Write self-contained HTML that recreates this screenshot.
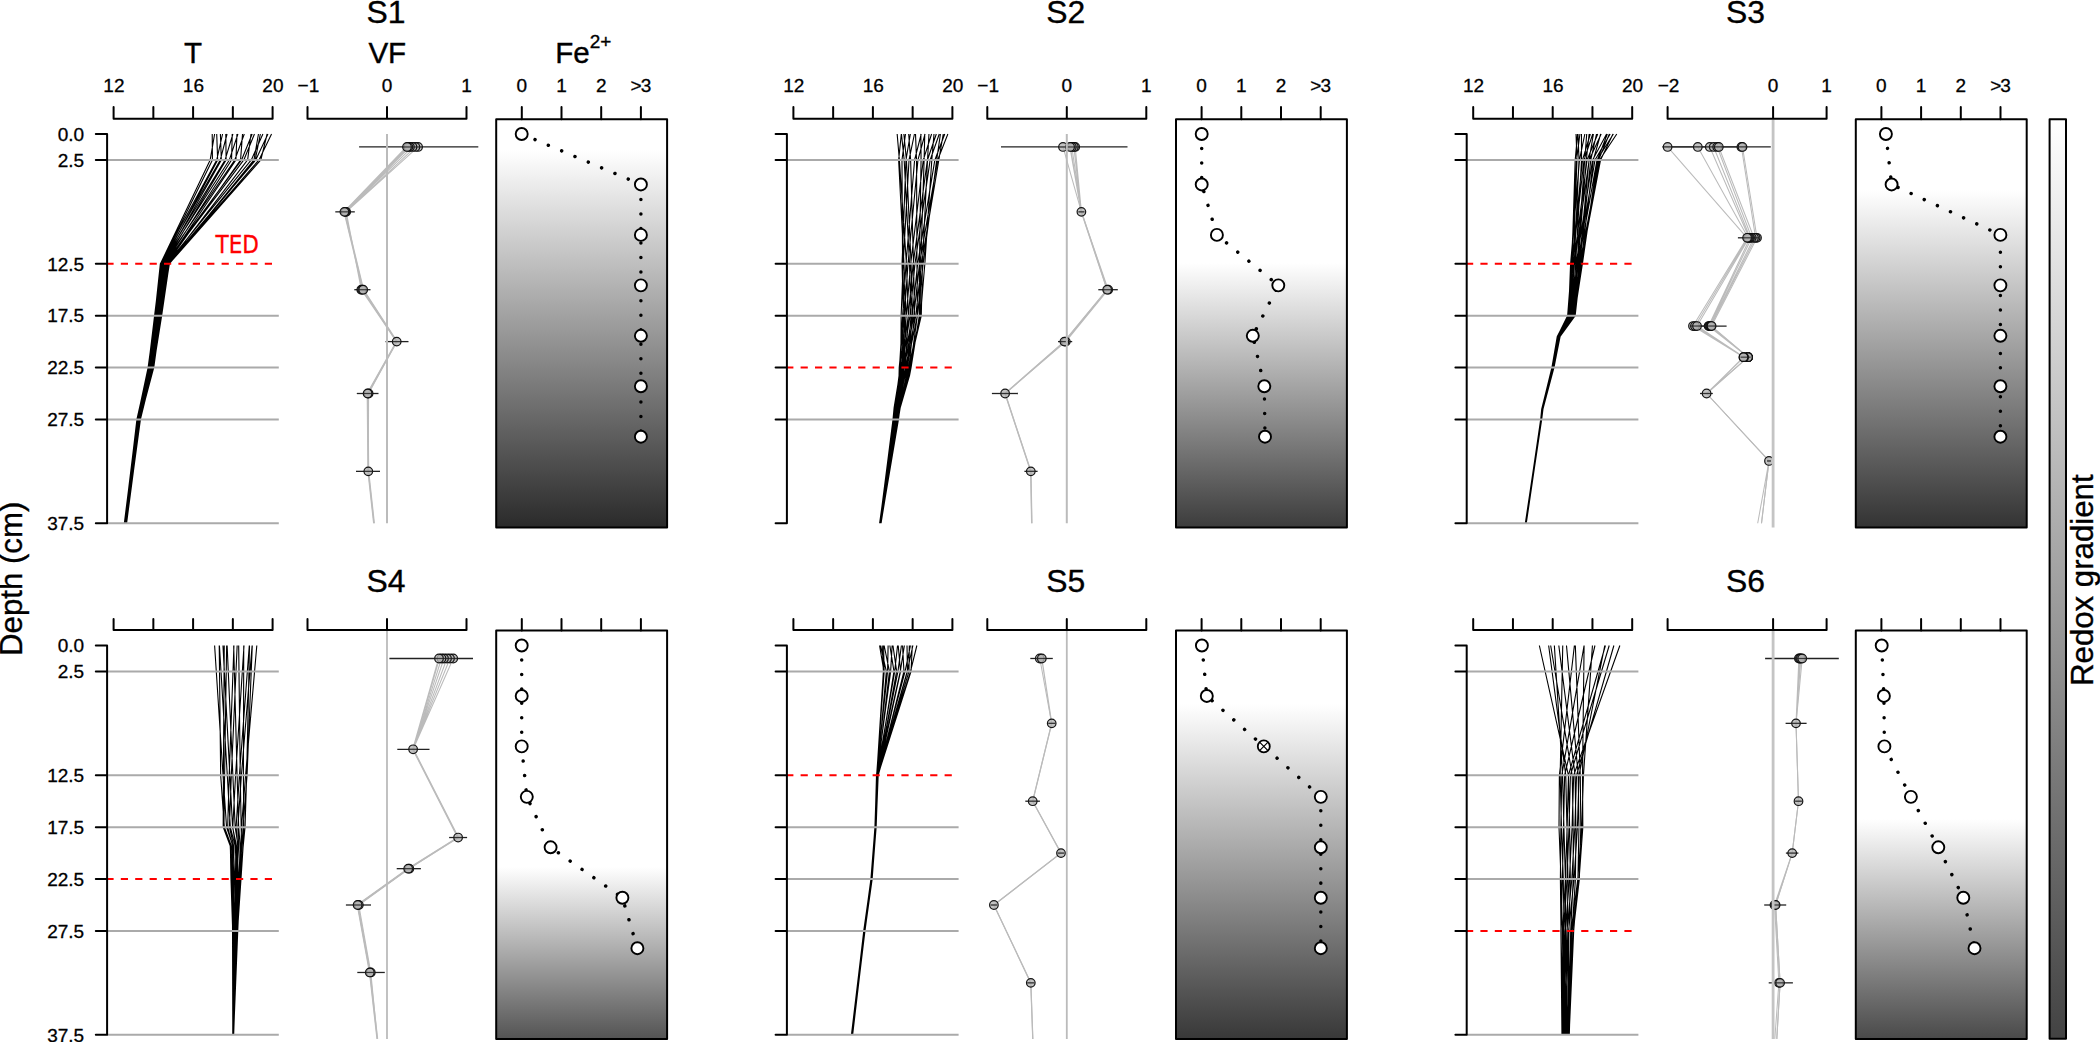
<!DOCTYPE html>
<html lang="en"><head><meta charset="utf-8"><title>Depth profiles of T, VF and Fe2+ at sites S1-S6</title>
<style>html,body{margin:0;padding:0;background:#fff}svg{display:block}text{font-family:'Liberation Sans', 'DejaVu Sans', sans-serif}</style>
</head><body>
<svg width="2100" height="1042" viewBox="0 0 2100 1042">
<rect width="2100" height="1042" fill="#fff"/>
<defs>
<linearGradient id="gS1" gradientUnits="userSpaceOnUse" x1="0" y1="119.2" x2="0" y2="527.6"><stop offset="0" stop-color="#fff"/><stop offset="0.0754" stop-color="rgb(255,255,255)"/><stop offset="1.0000" stop-color="rgb(42,42,42)"/></linearGradient>
<linearGradient id="gS2" gradientUnits="userSpaceOnUse" x1="0" y1="119.2" x2="0" y2="527.6"><stop offset="0" stop-color="#fff"/><stop offset="0.3521" stop-color="rgb(255,255,255)"/><stop offset="1.0000" stop-color="rgb(60,60,60)"/></linearGradient>
<linearGradient id="gS3" gradientUnits="userSpaceOnUse" x1="0" y1="119.2" x2="0" y2="527.6"><stop offset="0" stop-color="#fff"/><stop offset="0.1734" stop-color="rgb(255,255,255)"/><stop offset="1.0000" stop-color="rgb(51,51,51)"/></linearGradient>
<linearGradient id="gS4" gradientUnits="userSpaceOnUse" x1="0" y1="630.5" x2="0" y2="1038.9"><stop offset="0" stop-color="#fff"/><stop offset="0.5791" stop-color="rgb(255,255,255)"/><stop offset="0.9998" stop-color="rgb(84,84,84)"/></linearGradient>
<linearGradient id="gS5" gradientUnits="userSpaceOnUse" x1="0" y1="630.5" x2="0" y2="1038.9"><stop offset="0" stop-color="#fff"/><stop offset="0.1800" stop-color="rgb(255,255,255)"/><stop offset="0.9998" stop-color="rgb(56,56,56)"/></linearGradient>
<linearGradient id="gS6" gradientUnits="userSpaceOnUse" x1="0" y1="630.5" x2="0" y2="1038.9"><stop offset="0" stop-color="#fff"/><stop offset="0.4616" stop-color="rgb(255,255,255)"/><stop offset="0.9998" stop-color="rgb(74,74,74)"/></linearGradient>
<linearGradient id="gbar" gradientUnits="userSpaceOnUse" x1="0" y1="119.2" x2="0" y2="1038.8"><stop offset="0" stop-color="#fff"/><stop offset="1" stop-color="rgb(67,67,67)"/></linearGradient>
</defs>
<g id="S1">
<text x="386" y="22.9" font-size="31.9" text-anchor="middle" fill="#000" stroke="#000" stroke-width="0.35" >S1</text>
<text x="193" y="62.9" font-size="29.6" text-anchor="middle" fill="#000" stroke="#000" stroke-width="0.35" >T</text>
<text x="113.9" y="91.6" font-size="19" text-anchor="middle" fill="#000" stroke="#000" stroke-width="0.3" >12</text>
<text x="193.4" y="91.6" font-size="19" text-anchor="middle" fill="#000" stroke="#000" stroke-width="0.3" >16</text>
<text x="272.9" y="91.6" font-size="19" text-anchor="middle" fill="#000" stroke="#000" stroke-width="0.3" >20</text>
<path d="M271.55 134L259 159.95L168.43 263.75L159.88 315.65L151.83 367.55L138.68 419.45L125.1 523.25M267.12 134L260.84 159.95L169.21 263.75L160.52 315.65L152.4 367.55L139.07 419.45L125.36 523.25M260.36 134L255.23 159.95L169.39 263.75L161.06 315.65L152.91 367.55L139.44 419.45L125.63 523.25M258.46 134L253.98 159.95L169.26 263.75L161.64 315.65L153.37 367.55L139.72 419.45L125.79 523.25M251.01 134L247.61 159.95L168.06 263.75L160.92 315.65L153.72 367.55L140 419.45L126.02 523.25M242.52 134L240.55 159.95L166.79 263.75L160.1 315.65L153.13 367.55L140.41 419.45L126.34 523.25M236.95 134L235.94 159.95L165.97 263.75L159.57 315.65L152.76 367.55L140.23 419.45L126.56 523.25M232.23 134L231.57 159.95L165.06 263.75L158.88 315.65L152.19 367.55L139.87 419.45L126.6 523.25M225.79 134L226.12 159.95L164.05 263.75L158.21 315.65L151.69 367.55L139.61 419.45L126.49 523.25M220.39 134L221.34 159.95L163.1 263.75L157.52 315.65L151.15 367.55L139.29 419.45L126.31 523.25M216.71 134L217.66 159.95L162.25 263.75L156.83 315.65L150.53 367.55L138.87 419.45L126.03 523.25M212.22 134L212.43 159.95L161.21 263.75L156.07 315.65L149.92 367.55L138.5 419.45L125.81 523.25M214.62 134L210.18 159.95L160.48 263.75L155.53 315.65L149.48 367.55L138.23 419.45L125.65 523.25M222.57 134L216.74 159.95L160.37 263.75L154.85 315.65L148.85 367.55L137.78 419.45L125.33 523.25M227.06 134L220.28 159.95L160.95 263.75L154.62 315.65L148.34 367.55L137.45 419.45L125.11 523.25M232.92 134L225.09 159.95L161.8 263.75L155.16 315.65L148.12 367.55L137.12 419.45L124.88 523.25M237.92 134L229.35 159.95L162.59 263.75L155.7 315.65L148.53 367.55L136.92 419.45L124.71 523.25M244.29 134L234.74 159.95L163.59 263.75L156.37 315.65L149.02 367.55L137.01 419.45L124.5 523.25M252.16 134L241.55 159.95L164.89 263.75L157.27 315.65L149.71 367.55L137.39 419.45L124.34 523.25M254.46 134L243.83 159.95L165.4 263.75L157.68 315.65L150.07 367.55L137.64 419.45L124.51 523.25M262.89 134L251.3 159.95L166.88 263.75L158.75 315.65L150.92 367.55L138.13 419.45L124.78 523.25M267.95 134L255.7 159.95L167.74 263.75L159.35 315.65L151.38 367.55L138.4 419.45L124.92 523.25" fill="none" stroke="#000" stroke-width="1.1" stroke-linejoin="round"/>
<line x1="107.1" y1="159.95" x2="278.8" y2="159.95" stroke="#aaa" stroke-width="2" />
<line x1="107.1" y1="315.65" x2="278.8" y2="315.65" stroke="#aaa" stroke-width="2" />
<line x1="107.1" y1="367.55" x2="278.8" y2="367.55" stroke="#aaa" stroke-width="2" />
<line x1="107.1" y1="419.45" x2="278.8" y2="419.45" stroke="#aaa" stroke-width="2" />
<line x1="107.1" y1="523.25" x2="278.8" y2="523.25" stroke="#aaa" stroke-width="2" />
<line x1="106.4" y1="263.75" x2="272.2" y2="263.75" stroke="#f00" stroke-width="2" stroke-dasharray="7.2 7.2"/>
<path d="M113.6 107.1V118.8H272.6V107.1M153.35 118.8V107.1M193.1 118.8V107.1M232.85 118.8V107.1" fill="none" stroke="#000" stroke-width="2" stroke-linecap="round" stroke-linejoin="round"/>
<path d="M107.1 134V523.25M95.8 134H107.1M95.8 159.95H107.1M95.8 263.75H107.1M95.8 315.65H107.1M95.8 367.55H107.1M95.8 419.45H107.1M95.8 523.25H107.1" fill="none" stroke="#000" stroke-width="2" stroke-linecap="round"/>
<text x="84.2" y="140.8" font-size="19" text-anchor="end" fill="#000" stroke="#000" stroke-width="0.3" >0.0</text>
<text x="84.2" y="166.75" font-size="19" text-anchor="end" fill="#000" stroke="#000" stroke-width="0.3" >2.5</text>
<text x="84.2" y="270.55" font-size="19" text-anchor="end" fill="#000" stroke="#000" stroke-width="0.3" >12.5</text>
<text x="84.2" y="322.45" font-size="19" text-anchor="end" fill="#000" stroke="#000" stroke-width="0.3" >17.5</text>
<text x="84.2" y="374.35" font-size="19" text-anchor="end" fill="#000" stroke="#000" stroke-width="0.3" >22.5</text>
<text x="84.2" y="426.25" font-size="19" text-anchor="end" fill="#000" stroke="#000" stroke-width="0.3" >27.5</text>
<text x="84.2" y="530.05" font-size="19" text-anchor="end" fill="#000" stroke="#000" stroke-width="0.3" >37.5</text>
<text x="387.3" y="62.9" font-size="29.6" text-anchor="middle" fill="#000" stroke="#000" stroke-width="0.35" >VF</text>
<text x="308.4" y="91.6" font-size="19" text-anchor="middle" fill="#000" stroke="#000" stroke-width="0.3" >−1</text>
<text x="387" y="91.6" font-size="19" text-anchor="middle" fill="#000" stroke="#000" stroke-width="0.3" >0</text>
<text x="466.5" y="91.6" font-size="19" text-anchor="middle" fill="#000" stroke="#000" stroke-width="0.3" >1</text>
<path d="M418.1 146.97L346.2 211.85L361.3 289.7L396.7 341.6L368.6 393.5L368.3 471.35L374 523.25M415.4 146.97L346.2 211.85L361.3 289.7L396.7 341.6L368.6 393.5L368.3 471.35L374 523.25M412.5 146.97L345.4 211.85L362.2 289.7L396.7 341.6L368.6 393.5L368.3 471.35L374 523.25M409.9 146.97L345.4 211.85L362.2 289.7L396.7 341.6L367.6 393.5L368.3 471.35L374 523.25M408.3 146.97L344.4 211.85L363.2 289.7L396.7 341.6L367.6 393.5L368.3 471.35L374 523.25" fill="none" stroke="#bbb" stroke-width="1.05" stroke-linejoin="round"/>
<path d="M407 146.97L344.4 211.85L363.2 289.7L396.7 341.6L367.6 393.5L368.3 471.35L374 523.25" fill="none" stroke="#bbb" stroke-width="1.9" stroke-linejoin="round"/>
<line x1="359.1" y1="146.97" x2="478.3" y2="146.97" stroke="#222" stroke-width="1.3" />
<line x1="335.3" y1="211.85" x2="354.8" y2="211.85" stroke="#222" stroke-width="1.3" />
<line x1="354.3" y1="289.7" x2="370.5" y2="289.7" stroke="#222" stroke-width="1.3" />
<line x1="385.5" y1="341.6" x2="408.5" y2="341.6" stroke="#222" stroke-width="1.3" />
<line x1="356.8" y1="393.5" x2="378.5" y2="393.5" stroke="#222" stroke-width="1.3" />
<line x1="356" y1="471.35" x2="380" y2="471.35" stroke="#222" stroke-width="1.3" />
<circle cx="418.1" cy="146.97" r="4.3" fill="#b2b2b2" fill-opacity="0.78" stroke="#0a0a0a" stroke-opacity="0.95" stroke-width="1.2"/>
<circle cx="415.4" cy="146.97" r="4.3" fill="#b2b2b2" fill-opacity="0.78" stroke="#0a0a0a" stroke-opacity="0.95" stroke-width="1.2"/>
<circle cx="412.5" cy="146.97" r="4.3" fill="#b2b2b2" fill-opacity="0.78" stroke="#0a0a0a" stroke-opacity="0.95" stroke-width="1.2"/>
<circle cx="409.9" cy="146.97" r="4.3" fill="#b2b2b2" fill-opacity="0.78" stroke="#0a0a0a" stroke-opacity="0.95" stroke-width="1.2"/>
<circle cx="408.3" cy="146.97" r="4.3" fill="#b2b2b2" fill-opacity="0.78" stroke="#0a0a0a" stroke-opacity="0.95" stroke-width="1.2"/>
<circle cx="407" cy="146.97" r="4.3" fill="#b2b2b2" fill-opacity="0.78" stroke="#0a0a0a" stroke-opacity="0.95" stroke-width="1.2"/>
<line x1="402.6" y1="146.97" x2="422.5" y2="146.97" stroke="#222" stroke-width="1.2" stroke-opacity="0.85"/>
<circle cx="346.2" cy="211.85" r="4.3" fill="#b2b2b2" fill-opacity="0.78" stroke="#0a0a0a" stroke-opacity="0.95" stroke-width="1.2"/>
<circle cx="345.4" cy="211.85" r="4.3" fill="#b2b2b2" fill-opacity="0.78" stroke="#0a0a0a" stroke-opacity="0.95" stroke-width="1.2"/>
<circle cx="344.4" cy="211.85" r="4.3" fill="#b2b2b2" fill-opacity="0.78" stroke="#0a0a0a" stroke-opacity="0.95" stroke-width="1.2"/>
<line x1="340" y1="211.85" x2="350.6" y2="211.85" stroke="#222" stroke-width="1.2" stroke-opacity="0.85"/>
<circle cx="361.3" cy="289.7" r="4.3" fill="#b2b2b2" fill-opacity="0.78" stroke="#0a0a0a" stroke-opacity="0.95" stroke-width="1.2"/>
<circle cx="362.2" cy="289.7" r="4.3" fill="#b2b2b2" fill-opacity="0.78" stroke="#0a0a0a" stroke-opacity="0.95" stroke-width="1.2"/>
<circle cx="363.2" cy="289.7" r="4.3" fill="#b2b2b2" fill-opacity="0.78" stroke="#0a0a0a" stroke-opacity="0.95" stroke-width="1.2"/>
<line x1="356.9" y1="289.7" x2="367.6" y2="289.7" stroke="#222" stroke-width="1.2" stroke-opacity="0.85"/>
<circle cx="396.7" cy="341.6" r="4.3" fill="#b2b2b2" fill-opacity="0.78" stroke="#0a0a0a" stroke-opacity="0.95" stroke-width="1.2"/>
<line x1="392.3" y1="341.6" x2="401.1" y2="341.6" stroke="#222" stroke-width="1.2" stroke-opacity="0.85"/>
<circle cx="368.6" cy="393.5" r="4.3" fill="#b2b2b2" fill-opacity="0.78" stroke="#0a0a0a" stroke-opacity="0.95" stroke-width="1.2"/>
<circle cx="367.6" cy="393.5" r="4.3" fill="#b2b2b2" fill-opacity="0.78" stroke="#0a0a0a" stroke-opacity="0.95" stroke-width="1.2"/>
<line x1="363.2" y1="393.5" x2="373" y2="393.5" stroke="#222" stroke-width="1.2" stroke-opacity="0.85"/>
<circle cx="368.3" cy="471.35" r="4.3" fill="#b2b2b2" fill-opacity="0.78" stroke="#0a0a0a" stroke-opacity="0.95" stroke-width="1.2"/>
<line x1="363.9" y1="471.35" x2="372.7" y2="471.35" stroke="#222" stroke-width="1.2" stroke-opacity="0.85"/>
<line x1="387" y1="134" x2="387" y2="523.25" stroke="#bbb" stroke-width="2" />
<path d="M307.5 107.1V118.8H466.5V107.1M387 118.8V107.1" fill="none" stroke="#000" stroke-width="2" stroke-linecap="round" stroke-linejoin="round"/>
<text x="555.2" y="62.9" font-size="29.6" text-anchor="start" fill="#000" stroke="#000" stroke-width="0.35">Fe<tspan font-size="19" dy="-14.7">2+</tspan></text>
<text x="521.8" y="91.6" font-size="19" text-anchor="middle" fill="#000" stroke="#000" stroke-width="0.3" >0</text>
<text x="561.5" y="91.6" font-size="19" text-anchor="middle" fill="#000" stroke="#000" stroke-width="0.3" >1</text>
<text x="601.2" y="91.6" font-size="19" text-anchor="middle" fill="#000" stroke="#000" stroke-width="0.3" >2</text>
<text x="640.4" y="91.6" font-size="19" text-anchor="middle" fill="#000" stroke="#000" stroke-width="0.3" letter-spacing="-1">&gt;3</text>
<rect x="496.2" y="119.2" width="170.9" height="408.4" fill="url(#gS1)"/>
<path d="M521.7 134L640.9 184.45L640.9 234.9L640.9 285.35L640.9 335.8L640.9 386.25L640.9 436.7" fill="none" stroke="#000" stroke-width="3.5" stroke-linecap="round" stroke-linejoin="round" stroke-dasharray="0.01 14.45"/>
<circle cx="521.7" cy="134" r="6" fill="#fff" stroke="#000" stroke-width="1.9"/>
<circle cx="640.9" cy="184.45" r="6" fill="#fff" stroke="#000" stroke-width="1.9"/>
<circle cx="640.9" cy="234.9" r="6" fill="#fff" stroke="#000" stroke-width="1.9"/>
<circle cx="640.9" cy="285.35" r="6" fill="#fff" stroke="#000" stroke-width="1.9"/>
<circle cx="640.9" cy="335.8" r="6" fill="#fff" stroke="#000" stroke-width="1.9"/>
<circle cx="640.9" cy="386.25" r="6" fill="#fff" stroke="#000" stroke-width="1.9"/>
<circle cx="640.9" cy="436.7" r="6" fill="#fff" stroke="#000" stroke-width="1.9"/>
<rect x="496.2" y="119.2" width="170.9" height="408.4" fill="none" stroke="#000" stroke-width="2" stroke-linejoin="round"/>
<path d="M521.8 119.2V107.1M561.5 119.2V107.1M601.2 119.2V107.1M640.9 119.2V107.1" fill="none" stroke="#000" stroke-width="2" stroke-linecap="round"/>
</g>
<g id="S2">
<text x="1065.8" y="22.9" font-size="31.9" text-anchor="middle" fill="#000" stroke="#000" stroke-width="0.35" >S2</text>
<text x="793.7" y="91.6" font-size="19" text-anchor="middle" fill="#000" stroke="#000" stroke-width="0.3" >12</text>
<text x="873.2" y="91.6" font-size="19" text-anchor="middle" fill="#000" stroke="#000" stroke-width="0.3" >16</text>
<text x="952.7" y="91.6" font-size="19" text-anchor="middle" fill="#000" stroke="#000" stroke-width="0.3" >20</text>
<path d="M947.86 134L937.67 159.95L919.51 263.75L913.82 315.65L904.22 367.55L903.09 375.85L896.01 407.51L894.36 419.45L879.72 523.25M943.26 134L938.83 159.95L921.4 263.75L915.79 315.65L905.56 367.55L904.34 375.85L896.75 407.51L895.05 419.45L879.89 523.25M940.42 134L936.71 159.95L923.15 263.75L917.38 315.65L906.51 367.55L905.21 375.85L897.22 407.51L895.48 419.45L879.99 523.25M934 134L931.81 159.95L924.84 263.75L920.48 315.65L908.43 367.55L906.98 375.85L898.21 407.51L896.38 419.45L880.19 523.25M928.96 134L927.53 159.95L922.44 263.75L921.29 315.65L909.16 367.55L907.69 375.85L898.68 407.51L896.83 419.45L880.33 523.25M924.77 134L924.12 159.95L920.75 263.75L920.14 315.65L910.01 367.55L908.5 375.85L899.16 407.51L897.29 419.45L880.45 523.25M920.85 134L921.06 159.95L919.45 263.75L919.33 315.65L911.06 367.55L909.47 375.85L899.71 407.51L897.8 419.45L880.57 523.25M915.51 134L916.53 159.95L916.97 263.75L917.36 315.65L910.35 367.55L909.43 375.85L900.23 407.51L898.29 419.45L880.72 523.25M908.69 134L910.63 159.95L913.53 263.75L914.53 315.65L908.86 367.55L908.1 375.85L900.04 407.51L898.44 419.45L880.9 523.25M903.86 134L906.44 159.95L911.08 263.75L912.5 315.65L907.79 367.55L907.14 375.85L899.56 407.51L898.01 419.45L881.03 523.25M901.46 134L904.18 159.95L909.49 263.75L911.03 315.65L906.9 367.55L906.32 375.85L899.11 407.51L897.6 419.45L881.07 523.25M897.16 134L899.38 159.95L906.45 263.75L908.36 315.65L905.38 367.55L904.95 375.85L898.38 407.51L896.95 419.45L880.94 523.25M901.33 134L898.63 159.95L903.96 263.75L906.08 315.65L904.01 367.55L903.7 375.85L897.7 407.51L896.32 419.45L880.8 523.25M905.49 134L901.97 159.95L902.57 263.75L904.66 315.65L903.05 367.55L902.79 375.85L897.17 407.51L895.83 419.45L880.67 523.25M910.36 134L905.97 159.95L902.06 263.75L903.34 315.65L902.08 367.55L901.87 375.85L896.61 407.51L895.3 419.45L880.53 523.25M914.45 134L909.03 159.95L903.17 263.75L901.14 315.65L900.77 367.55L900.66 375.85L895.94 407.51L894.7 419.45L880.4 523.25M921.22 134L914.6 159.95L906.03 263.75L902.65 315.65L899.49 367.55L899.45 375.85L895.2 407.51L894 419.45L880.2 523.25M925.04 134L917.95 159.95L908.02 263.75L904.32 315.65L899.21 367.55L899.04 375.85L894.9 407.51L893.71 419.45L880.11 523.25M931.58 134L923.3 159.95L910.69 263.75L906.27 315.65L900.06 367.55L899.33 375.85L894.14 407.51L893 419.45L879.92 523.25M936.32 134L927.44 159.95L913.15 263.75L908.33 315.65L901.17 367.55L900.33 375.85L894.57 407.51L893.07 419.45L879.79 523.25M939.27 134L930.17 159.95L914.98 263.75L909.98 315.65L902.14 367.55L901.21 375.85L895.05 407.51L893.51 419.45L879.72 523.25M944.75 134L934.86 159.95L917.67 263.75L912.17 315.65L903.27 367.55L902.21 375.85L895.54 407.51L893.94 419.45L879.63 523.25" fill="none" stroke="#000" stroke-width="1.1" stroke-linejoin="round"/>
<line x1="786.9" y1="159.95" x2="958.6" y2="159.95" stroke="#aaa" stroke-width="2" />
<line x1="786.9" y1="263.75" x2="958.6" y2="263.75" stroke="#aaa" stroke-width="2" />
<line x1="786.9" y1="315.65" x2="958.6" y2="315.65" stroke="#aaa" stroke-width="2" />
<line x1="786.9" y1="419.45" x2="958.6" y2="419.45" stroke="#aaa" stroke-width="2" />
<line x1="786.2" y1="367.55" x2="952" y2="367.55" stroke="#f00" stroke-width="2" stroke-dasharray="7.2 7.2"/>
<path d="M793.4 107.1V118.8H952.4V107.1M833.15 118.8V107.1M872.9 118.8V107.1M912.65 118.8V107.1" fill="none" stroke="#000" stroke-width="2" stroke-linecap="round" stroke-linejoin="round"/>
<path d="M786.9 134V523.25M775.6 134H786.9M775.6 159.95H786.9M775.6 263.75H786.9M775.6 315.65H786.9M775.6 367.55H786.9M775.6 419.45H786.9M775.6 523.25H786.9" fill="none" stroke="#000" stroke-width="2" stroke-linecap="round"/>
<text x="988.2" y="91.6" font-size="19" text-anchor="middle" fill="#000" stroke="#000" stroke-width="0.3" >−1</text>
<text x="1066.8" y="91.6" font-size="19" text-anchor="middle" fill="#000" stroke="#000" stroke-width="0.3" >0</text>
<text x="1146.3" y="91.6" font-size="19" text-anchor="middle" fill="#000" stroke="#000" stroke-width="0.3" >1</text>
<path d="M1063 146.97L1081.4 211.85L1108.2 289.7L1065.8 341.6L1005.1 393.5L1030.8 471.35L1031.8 523.25M1075.2 146.97L1081.4 211.85L1108.2 289.7L1065.8 341.6L1005.1 393.5L1030.8 471.35L1031.8 523.25M1073.8 146.97L1081.4 211.85L1107.2 289.7L1064.4 341.6L1005.1 393.5L1030.8 471.35L1031.8 523.25M1071.8 146.97L1081.4 211.85L1107.2 289.7L1064.4 341.6L1005.1 393.5L1030.8 471.35L1031.8 523.25" fill="none" stroke="#bbb" stroke-width="1.05" stroke-linejoin="round"/>
<path d="M1070.1 146.97L1081.4 211.85L1107.2 289.7L1064.4 341.6L1005.1 393.5L1030.8 471.35L1031.8 523.25" fill="none" stroke="#bbb" stroke-width="1.5" stroke-linejoin="round"/>
<line x1="1001" y1="146.97" x2="1127.5" y2="146.97" stroke="#222" stroke-width="1.3" />
<line x1="1078.4" y1="211.85" x2="1084.4" y2="211.85" stroke="#222" stroke-width="1.3" />
<line x1="1098.3" y1="289.7" x2="1117.8" y2="289.7" stroke="#222" stroke-width="1.3" />
<line x1="1058" y1="341.6" x2="1072.2" y2="341.6" stroke="#222" stroke-width="1.3" />
<line x1="991.9" y1="393.5" x2="1017.9" y2="393.5" stroke="#222" stroke-width="1.3" />
<line x1="1024.4" y1="471.35" x2="1037.6" y2="471.35" stroke="#222" stroke-width="1.3" />
<circle cx="1063" cy="146.97" r="4.3" fill="#b2b2b2" fill-opacity="0.78" stroke="#0a0a0a" stroke-opacity="0.95" stroke-width="1.2"/>
<circle cx="1075.2" cy="146.97" r="4.3" fill="#b2b2b2" fill-opacity="0.78" stroke="#0a0a0a" stroke-opacity="0.95" stroke-width="1.2"/>
<circle cx="1073.8" cy="146.97" r="4.3" fill="#b2b2b2" fill-opacity="0.78" stroke="#0a0a0a" stroke-opacity="0.95" stroke-width="1.2"/>
<circle cx="1071.8" cy="146.97" r="4.3" fill="#b2b2b2" fill-opacity="0.78" stroke="#0a0a0a" stroke-opacity="0.95" stroke-width="1.2"/>
<circle cx="1070.1" cy="146.97" r="4.3" fill="#b2b2b2" fill-opacity="0.78" stroke="#0a0a0a" stroke-opacity="0.95" stroke-width="1.2"/>
<line x1="1058.6" y1="146.97" x2="1079.6" y2="146.97" stroke="#222" stroke-width="1.2" stroke-opacity="0.85"/>
<circle cx="1081.4" cy="211.85" r="4.3" fill="#b2b2b2" fill-opacity="0.78" stroke="#0a0a0a" stroke-opacity="0.95" stroke-width="1.2"/>
<line x1="1078.4" y1="211.85" x2="1084.4" y2="211.85" stroke="#222" stroke-width="1.2" stroke-opacity="0.85"/>
<circle cx="1108.2" cy="289.7" r="4.3" fill="#b2b2b2" fill-opacity="0.78" stroke="#0a0a0a" stroke-opacity="0.95" stroke-width="1.2"/>
<circle cx="1107.2" cy="289.7" r="4.3" fill="#b2b2b2" fill-opacity="0.78" stroke="#0a0a0a" stroke-opacity="0.95" stroke-width="1.2"/>
<line x1="1102.8" y1="289.7" x2="1112.6" y2="289.7" stroke="#222" stroke-width="1.2" stroke-opacity="0.85"/>
<circle cx="1065.8" cy="341.6" r="4.3" fill="#b2b2b2" fill-opacity="0.78" stroke="#0a0a0a" stroke-opacity="0.95" stroke-width="1.2"/>
<circle cx="1064.4" cy="341.6" r="4.3" fill="#b2b2b2" fill-opacity="0.78" stroke="#0a0a0a" stroke-opacity="0.95" stroke-width="1.2"/>
<line x1="1060" y1="341.6" x2="1070.2" y2="341.6" stroke="#222" stroke-width="1.2" stroke-opacity="0.85"/>
<circle cx="1005.1" cy="393.5" r="4.3" fill="#b2b2b2" fill-opacity="0.78" stroke="#0a0a0a" stroke-opacity="0.95" stroke-width="1.2"/>
<line x1="1000.7" y1="393.5" x2="1009.5" y2="393.5" stroke="#222" stroke-width="1.2" stroke-opacity="0.85"/>
<circle cx="1030.8" cy="471.35" r="4.3" fill="#b2b2b2" fill-opacity="0.78" stroke="#0a0a0a" stroke-opacity="0.95" stroke-width="1.2"/>
<line x1="1026.4" y1="471.35" x2="1035.2" y2="471.35" stroke="#222" stroke-width="1.2" stroke-opacity="0.85"/>
<line x1="1066.8" y1="134" x2="1066.8" y2="523.25" stroke="#bbb" stroke-width="2" />
<path d="M987.3 107.1V118.8H1146.3V107.1M1066.8 118.8V107.1" fill="none" stroke="#000" stroke-width="2" stroke-linecap="round" stroke-linejoin="round"/>
<text x="1201.6" y="91.6" font-size="19" text-anchor="middle" fill="#000" stroke="#000" stroke-width="0.3" >0</text>
<text x="1241.3" y="91.6" font-size="19" text-anchor="middle" fill="#000" stroke="#000" stroke-width="0.3" >1</text>
<text x="1281" y="91.6" font-size="19" text-anchor="middle" fill="#000" stroke="#000" stroke-width="0.3" >2</text>
<text x="1320.2" y="91.6" font-size="19" text-anchor="middle" fill="#000" stroke="#000" stroke-width="0.3" letter-spacing="-1">&gt;3</text>
<rect x="1176" y="119.2" width="170.9" height="408.4" fill="url(#gS2)"/>
<path d="M1201.7 134L1201.7 184.45L1216.9 234.9L1278.3 285.35L1252.8 335.8L1264.3 386.25L1265 436.7" fill="none" stroke="#000" stroke-width="3.5" stroke-linecap="round" stroke-linejoin="round" stroke-dasharray="0.01 14.45"/>
<circle cx="1201.7" cy="134" r="6" fill="#fff" stroke="#000" stroke-width="1.9"/>
<circle cx="1201.7" cy="184.45" r="6" fill="#fff" stroke="#000" stroke-width="1.9"/>
<circle cx="1216.9" cy="234.9" r="6" fill="#fff" stroke="#000" stroke-width="1.9"/>
<circle cx="1278.3" cy="285.35" r="6" fill="#fff" stroke="#000" stroke-width="1.9"/>
<circle cx="1252.8" cy="335.8" r="6" fill="#fff" stroke="#000" stroke-width="1.9"/>
<circle cx="1264.3" cy="386.25" r="6" fill="#fff" stroke="#000" stroke-width="1.9"/>
<circle cx="1265" cy="436.7" r="6" fill="#fff" stroke="#000" stroke-width="1.9"/>
<rect x="1176" y="119.2" width="170.9" height="408.4" fill="none" stroke="#000" stroke-width="2" stroke-linejoin="round"/>
<path d="M1201.6 119.2V107.1M1241.3 119.2V107.1M1281 119.2V107.1M1320.7 119.2V107.1" fill="none" stroke="#000" stroke-width="2" stroke-linecap="round"/>
</g>
<g id="S3">
<text x="1745.6" y="22.9" font-size="31.9" text-anchor="middle" fill="#000" stroke="#000" stroke-width="0.35" >S3</text>
<text x="1473.5" y="91.6" font-size="19" text-anchor="middle" fill="#000" stroke="#000" stroke-width="0.3" >12</text>
<text x="1553" y="91.6" font-size="19" text-anchor="middle" fill="#000" stroke="#000" stroke-width="0.3" >16</text>
<text x="1632.5" y="91.6" font-size="19" text-anchor="middle" fill="#000" stroke="#000" stroke-width="0.3" >20</text>
<path d="M1616.76 134L1599.6 159.95L1579.71 263.75L1572.52 315.65L1559 336.41L1552.89 367.55L1542.21 409.07L1541.06 419.45L1525.46 523.25M1612.97 134L1600.54 159.95L1580.91 263.75L1573.33 315.65L1559.33 336.41L1553.14 367.55L1542.35 409.07L1541.17 419.45L1525.56 523.25M1609.4 134L1598.51 159.95L1581.86 263.75L1574.01 315.65L1559.61 336.41L1553.35 367.55L1542.48 409.07L1541.27 419.45L1525.65 523.25M1607.33 134L1597.34 159.95L1582.41 263.75L1574.39 315.65L1559.76 336.41L1553.46 367.55L1542.55 409.07L1541.32 419.45L1525.71 523.25M1600.64 134L1593.36 159.95L1580.94 263.75L1575.15 315.65L1560.12 336.41L1553.75 367.55L1542.74 409.07L1541.47 419.45L1525.87 523.25M1596.5 134L1590.78 159.95L1579.76 263.75L1574.45 315.65L1560.12 336.41L1553.87 367.55L1542.82 409.07L1541.53 419.45L1525.95 523.25M1593.41 134L1589.06 159.95L1579.18 263.75L1574.21 315.65L1560.05 336.41L1553.94 367.55L1542.93 409.07L1541.62 419.45L1526.04 523.25M1589.13 134L1586.32 159.95L1577.87 263.75L1573.41 315.65L1559.75 336.41L1553.72 367.55L1542.94 409.07L1541.68 419.45L1526.12 523.25M1586.71 134L1584.72 159.95L1577.06 263.75L1572.9 315.65L1559.55 336.41L1553.58 367.55L1542.86 409.07L1541.62 419.45L1526.17 523.25M1581.47 134L1581.51 159.95L1575.65 263.75L1572.1 315.65L1559.26 336.41L1553.39 367.55L1542.77 409.07L1541.55 419.45L1526.28 523.25M1577.99 134L1579.03 159.95L1574.21 263.75L1571.11 315.65L1558.87 336.41L1553.09 367.55L1542.59 409.07L1541.42 419.45L1526.19 523.25M1576.03 134L1576.99 159.95L1573.11 263.75L1570.38 315.65L1558.58 336.41L1552.88 367.55L1542.47 409.07L1541.32 419.45L1526.11 523.25M1577.56 134L1575.19 159.95L1571.89 263.75L1569.64 315.65L1558.3 336.41L1552.68 367.55L1542.36 409.07L1541.24 419.45L1526.05 523.25M1579.92 134L1576.55 159.95L1571.31 263.75L1569.22 315.65L1558.13 336.41L1552.55 367.55L1542.28 409.07L1541.18 419.45L1525.99 523.25M1584.84 134L1579.49 159.95L1570.6 263.75L1568.62 315.65L1557.87 336.41L1552.35 367.55L1542.15 409.07L1541.08 419.45L1525.87 523.25M1590.32 134L1582.55 159.95L1571.66 263.75L1567.66 315.65L1557.43 336.41L1552.02 367.55L1541.95 409.07L1540.92 419.45L1525.73 523.25M1592.76 134L1584.01 159.95L1572.27 263.75L1568 315.65L1557.31 336.41L1551.93 367.55L1541.89 409.07L1540.87 419.45L1525.67 523.25M1597.72 134L1587.09 159.95L1573.64 263.75L1568.79 315.65L1557.59 336.41L1551.9 367.55L1541.78 409.07L1540.79 419.45L1525.57 523.25M1601.19 134L1589.17 159.95L1574.51 263.75L1569.27 315.65L1557.76 336.41L1552.01 367.55L1541.72 409.07L1540.71 419.45L1525.49 523.25M1606.59 134L1592.6 159.95L1576.13 263.75L1570.23 315.65L1558.12 336.41L1552.26 367.55L1541.85 409.07L1540.79 419.45L1525.38 523.25M1610.13 134L1595.03 159.95L1577.46 263.75L1571.12 315.65L1558.47 336.41L1552.52 367.55L1542 409.07L1540.9 419.45L1525.34 523.25M1613.39 134L1597.03 159.95L1578.34 263.75L1571.61 315.65L1558.65 336.41L1552.64 367.55L1542.06 409.07L1540.94 419.45L1525.36 523.25" fill="none" stroke="#000" stroke-width="1.1" stroke-linejoin="round"/>
<line x1="1466.7" y1="159.95" x2="1638.4" y2="159.95" stroke="#aaa" stroke-width="2" />
<line x1="1466.7" y1="315.65" x2="1638.4" y2="315.65" stroke="#aaa" stroke-width="2" />
<line x1="1466.7" y1="367.55" x2="1638.4" y2="367.55" stroke="#aaa" stroke-width="2" />
<line x1="1466.7" y1="419.45" x2="1638.4" y2="419.45" stroke="#aaa" stroke-width="2" />
<line x1="1466.7" y1="523.25" x2="1638.4" y2="523.25" stroke="#aaa" stroke-width="2" />
<line x1="1466" y1="263.75" x2="1631.8" y2="263.75" stroke="#f00" stroke-width="2" stroke-dasharray="7.2 7.2"/>
<path d="M1473.2 107.1V118.8H1632.2V107.1M1512.95 118.8V107.1M1552.7 118.8V107.1M1592.45 118.8V107.1" fill="none" stroke="#000" stroke-width="2" stroke-linecap="round" stroke-linejoin="round"/>
<path d="M1466.7 134V523.25M1455.4 134H1466.7M1455.4 159.95H1466.7M1455.4 263.75H1466.7M1455.4 315.65H1466.7M1455.4 367.55H1466.7M1455.4 419.45H1466.7M1455.4 523.25H1466.7" fill="none" stroke="#000" stroke-width="2" stroke-linecap="round"/>
<text x="1668.5" y="91.6" font-size="19" text-anchor="middle" fill="#000" stroke="#000" stroke-width="0.3" >−2</text>
<text x="1773.1" y="91.6" font-size="19" text-anchor="middle" fill="#000" stroke="#000" stroke-width="0.3" >0</text>
<text x="1826.6" y="91.6" font-size="19" text-anchor="middle" fill="#000" stroke="#000" stroke-width="0.3" >1</text>
<path d="M1667.6 146.97L1747.1 237.8L1693 326.03L1743.5 357.17L1706.6 393.5L1769 460.97L1757.7 523.25M1697.8 146.97L1748.1 237.8L1695 326.03L1743.5 357.17L1706.6 393.5L1769 460.97L1757.7 523.25M1709.8 146.97L1749.1 237.8L1697 326.03L1744.1 357.17L1706.6 393.5L1769 460.97L1757.7 523.25M1713.7 146.97L1750.1 237.8L1708.6 326.03L1748 357.17L1706.6 393.5L1769 460.97L1761.5 523.25M1717.2 146.97L1751.7 237.8L1709.4 326.03L1748 357.17L1706.6 393.5L1769 460.97L1761.5 523.25M1718.8 146.97L1754 237.8L1710.2 326.03L1748 357.17L1706.6 393.5L1769 460.97L1761.5 523.25M1741.4 146.97L1755.6 237.8L1710.9 326.03L1748 357.17L1706.6 393.5L1769 460.97L1761.5 523.25" fill="none" stroke="#bbb" stroke-width="1.05" stroke-linejoin="round"/>
<path d="M1742.5 146.97L1757 237.8L1711.6 326.03L1748 357.17L1706.6 393.5L1769 460.97L1761.5 523.25" fill="none" stroke="#bbb" stroke-width="1.05" stroke-linejoin="round"/>
<line x1="1662.3" y1="146.97" x2="1770.8" y2="146.97" stroke="#222" stroke-width="1.3" />
<line x1="1737.9" y1="237.8" x2="1758.6" y2="237.8" stroke="#222" stroke-width="1.3" />
<line x1="1690" y1="326.03" x2="1726.6" y2="326.03" stroke="#222" stroke-width="1.3" />
<line x1="1740.6" y1="357.17" x2="1750.6" y2="357.17" stroke="#222" stroke-width="1.3" />
<line x1="1700" y1="393.5" x2="1712.8" y2="393.5" stroke="#222" stroke-width="1.3" />
<line x1="1767" y1="460.97" x2="1771" y2="460.97" stroke="#222" stroke-width="1.3" />
<circle cx="1667.6" cy="146.97" r="4.3" fill="#b2b2b2" fill-opacity="0.78" stroke="#0a0a0a" stroke-opacity="0.95" stroke-width="1.2"/>
<circle cx="1697.8" cy="146.97" r="4.3" fill="#b2b2b2" fill-opacity="0.78" stroke="#0a0a0a" stroke-opacity="0.95" stroke-width="1.2"/>
<circle cx="1709.8" cy="146.97" r="4.3" fill="#b2b2b2" fill-opacity="0.78" stroke="#0a0a0a" stroke-opacity="0.95" stroke-width="1.2"/>
<circle cx="1713.7" cy="146.97" r="4.3" fill="#b2b2b2" fill-opacity="0.78" stroke="#0a0a0a" stroke-opacity="0.95" stroke-width="1.2"/>
<circle cx="1717.2" cy="146.97" r="4.3" fill="#b2b2b2" fill-opacity="0.78" stroke="#0a0a0a" stroke-opacity="0.95" stroke-width="1.2"/>
<circle cx="1718.8" cy="146.97" r="4.3" fill="#b2b2b2" fill-opacity="0.78" stroke="#0a0a0a" stroke-opacity="0.95" stroke-width="1.2"/>
<circle cx="1741.4" cy="146.97" r="4.3" fill="#b2b2b2" fill-opacity="0.78" stroke="#0a0a0a" stroke-opacity="0.95" stroke-width="1.2"/>
<circle cx="1742.5" cy="146.97" r="4.3" fill="#b2b2b2" fill-opacity="0.78" stroke="#0a0a0a" stroke-opacity="0.95" stroke-width="1.2"/>
<line x1="1663.2" y1="146.97" x2="1746.9" y2="146.97" stroke="#222" stroke-width="1.2" stroke-opacity="0.85"/>
<circle cx="1757" cy="237.8" r="4.3" fill="#b2b2b2" fill-opacity="0.78" stroke="#0a0a0a" stroke-opacity="0.95" stroke-width="1.2"/>
<circle cx="1755.6" cy="237.8" r="4.3" fill="#b2b2b2" fill-opacity="0.78" stroke="#0a0a0a" stroke-opacity="0.95" stroke-width="1.2"/>
<circle cx="1754" cy="237.8" r="4.3" fill="#b2b2b2" fill-opacity="0.78" stroke="#0a0a0a" stroke-opacity="0.95" stroke-width="1.2"/>
<circle cx="1751.7" cy="237.8" r="4.3" fill="#b2b2b2" fill-opacity="0.78" stroke="#0a0a0a" stroke-opacity="0.95" stroke-width="1.2"/>
<circle cx="1750.1" cy="237.8" r="4.3" fill="#b2b2b2" fill-opacity="0.78" stroke="#0a0a0a" stroke-opacity="0.95" stroke-width="1.2"/>
<circle cx="1749.1" cy="237.8" r="4.3" fill="#b2b2b2" fill-opacity="0.78" stroke="#0a0a0a" stroke-opacity="0.95" stroke-width="1.2"/>
<circle cx="1748.1" cy="237.8" r="4.3" fill="#b2b2b2" fill-opacity="0.78" stroke="#0a0a0a" stroke-opacity="0.95" stroke-width="1.2"/>
<circle cx="1747.1" cy="237.8" r="4.3" fill="#b2b2b2" fill-opacity="0.78" stroke="#0a0a0a" stroke-opacity="0.95" stroke-width="1.2"/>
<line x1="1742.7" y1="237.8" x2="1758.6" y2="237.8" stroke="#222" stroke-width="1.2" stroke-opacity="0.85"/>
<circle cx="1693" cy="326.03" r="4.3" fill="#b2b2b2" fill-opacity="0.78" stroke="#0a0a0a" stroke-opacity="0.95" stroke-width="1.2"/>
<circle cx="1695" cy="326.03" r="4.3" fill="#b2b2b2" fill-opacity="0.78" stroke="#0a0a0a" stroke-opacity="0.95" stroke-width="1.2"/>
<circle cx="1697" cy="326.03" r="4.3" fill="#b2b2b2" fill-opacity="0.78" stroke="#0a0a0a" stroke-opacity="0.95" stroke-width="1.2"/>
<circle cx="1708.6" cy="326.03" r="4.3" fill="#b2b2b2" fill-opacity="0.78" stroke="#0a0a0a" stroke-opacity="0.95" stroke-width="1.2"/>
<circle cx="1709.4" cy="326.03" r="4.3" fill="#b2b2b2" fill-opacity="0.78" stroke="#0a0a0a" stroke-opacity="0.95" stroke-width="1.2"/>
<circle cx="1710.2" cy="326.03" r="4.3" fill="#b2b2b2" fill-opacity="0.78" stroke="#0a0a0a" stroke-opacity="0.95" stroke-width="1.2"/>
<circle cx="1710.9" cy="326.03" r="4.3" fill="#b2b2b2" fill-opacity="0.78" stroke="#0a0a0a" stroke-opacity="0.95" stroke-width="1.2"/>
<circle cx="1711.6" cy="326.03" r="4.3" fill="#b2b2b2" fill-opacity="0.78" stroke="#0a0a0a" stroke-opacity="0.95" stroke-width="1.2"/>
<line x1="1690" y1="326.03" x2="1716" y2="326.03" stroke="#222" stroke-width="1.2" stroke-opacity="0.85"/>
<circle cx="1748" cy="357.17" r="4.3" fill="#b2b2b2" fill-opacity="0.78" stroke="#0a0a0a" stroke-opacity="0.95" stroke-width="1.2"/>
<circle cx="1748" cy="357.17" r="4.3" fill="#b2b2b2" fill-opacity="0.78" stroke="#0a0a0a" stroke-opacity="0.95" stroke-width="1.2"/>
<circle cx="1748" cy="357.17" r="4.3" fill="#b2b2b2" fill-opacity="0.78" stroke="#0a0a0a" stroke-opacity="0.95" stroke-width="1.2"/>
<circle cx="1748" cy="357.17" r="4.3" fill="#b2b2b2" fill-opacity="0.78" stroke="#0a0a0a" stroke-opacity="0.95" stroke-width="1.2"/>
<circle cx="1748" cy="357.17" r="4.3" fill="#b2b2b2" fill-opacity="0.78" stroke="#0a0a0a" stroke-opacity="0.95" stroke-width="1.2"/>
<circle cx="1744.1" cy="357.17" r="4.3" fill="#b2b2b2" fill-opacity="0.78" stroke="#0a0a0a" stroke-opacity="0.95" stroke-width="1.2"/>
<circle cx="1743.5" cy="357.17" r="4.3" fill="#b2b2b2" fill-opacity="0.78" stroke="#0a0a0a" stroke-opacity="0.95" stroke-width="1.2"/>
<circle cx="1743.5" cy="357.17" r="4.3" fill="#b2b2b2" fill-opacity="0.78" stroke="#0a0a0a" stroke-opacity="0.95" stroke-width="1.2"/>
<line x1="1740.6" y1="357.17" x2="1750.6" y2="357.17" stroke="#222" stroke-width="1.2" stroke-opacity="0.85"/>
<circle cx="1706.6" cy="393.5" r="4.3" fill="#b2b2b2" fill-opacity="0.78" stroke="#0a0a0a" stroke-opacity="0.95" stroke-width="1.2"/>
<line x1="1702.2" y1="393.5" x2="1711" y2="393.5" stroke="#222" stroke-width="1.2" stroke-opacity="0.85"/>
<circle cx="1769" cy="460.97" r="4.3" fill="#b2b2b2" fill-opacity="0.78" stroke="#0a0a0a" stroke-opacity="0.95" stroke-width="1.2"/>
<line x1="1767" y1="460.97" x2="1771" y2="460.97" stroke="#222" stroke-width="1.2" stroke-opacity="0.85"/>
<line x1="1773.1" y1="119.8" x2="1773.1" y2="527.6" stroke="#c4c4c4" stroke-width="2.8" />
<path d="M1667.6 107.1V118.8H1826.6V107.1M1773.1 118.8V107.1" fill="none" stroke="#000" stroke-width="2" stroke-linecap="round" stroke-linejoin="round"/>
<text x="1881.4" y="91.6" font-size="19" text-anchor="middle" fill="#000" stroke="#000" stroke-width="0.3" >0</text>
<text x="1921.1" y="91.6" font-size="19" text-anchor="middle" fill="#000" stroke="#000" stroke-width="0.3" >1</text>
<text x="1960.8" y="91.6" font-size="19" text-anchor="middle" fill="#000" stroke="#000" stroke-width="0.3" >2</text>
<text x="2000" y="91.6" font-size="19" text-anchor="middle" fill="#000" stroke="#000" stroke-width="0.3" letter-spacing="-1">&gt;3</text>
<rect x="1855.8" y="119.2" width="170.9" height="408.4" fill="url(#gS3)"/>
<path d="M1885.9 134L1891.6 184.45L2000.4 234.9L2000.4 285.35L2000.4 335.8L2000.4 386.25L2000.4 436.7" fill="none" stroke="#000" stroke-width="3.5" stroke-linecap="round" stroke-linejoin="round" stroke-dasharray="0.01 14.45"/>
<circle cx="1885.9" cy="134" r="6" fill="#fff" stroke="#000" stroke-width="1.9"/>
<circle cx="1891.6" cy="184.45" r="6" fill="#fff" stroke="#000" stroke-width="1.9"/>
<circle cx="2000.4" cy="234.9" r="6" fill="#fff" stroke="#000" stroke-width="1.9"/>
<circle cx="2000.4" cy="285.35" r="6" fill="#fff" stroke="#000" stroke-width="1.9"/>
<circle cx="2000.4" cy="335.8" r="6" fill="#fff" stroke="#000" stroke-width="1.9"/>
<circle cx="2000.4" cy="386.25" r="6" fill="#fff" stroke="#000" stroke-width="1.9"/>
<circle cx="2000.4" cy="436.7" r="6" fill="#fff" stroke="#000" stroke-width="1.9"/>
<rect x="1855.8" y="119.2" width="170.9" height="408.4" fill="none" stroke="#000" stroke-width="2" stroke-linejoin="round"/>
<path d="M1881.4 119.2V107.1M1921.1 119.2V107.1M1960.8 119.2V107.1M2000.5 119.2V107.1" fill="none" stroke="#000" stroke-width="2" stroke-linecap="round"/>
</g>
<g id="S4">
<text x="386" y="592.4" font-size="31.9" text-anchor="middle" fill="#000" stroke="#000" stroke-width="0.35" >S4</text>
<path d="M256.81 645.5L245.58 775.25L241.51 827.15L240.98 845.83L238.22 879.05L235.7 930.95L233.14 1034.75M252.27 645.5L247.06 775.25L243.05 827.15L241.97 845.83L239 879.05L236.2 930.95L233.24 1034.75M249.52 645.5L246.66 775.25L245.03 827.15L243.2 845.83L239.9 879.05L236.72 930.95L233.33 1034.75M243.74 645.5L243.41 775.25L243.7 827.15L243.17 845.83L240.99 879.05L237.51 930.95L233.48 1034.75M238.68 645.5L240.25 775.25L241.18 827.15L241.68 845.83L239.99 879.05L237.74 930.95L233.58 1034.75M233.68 645.5L237.11 775.25L238.67 827.15L240.18 845.83L238.98 879.05L237.23 930.95L233.67 1034.75M227.13 645.5L232.85 775.25L235.18 827.15L238.1 845.83L237.56 879.05L236.5 930.95L233.61 1034.75M222.97 645.5L229.86 775.25L232.58 827.15L236.5 845.83L236.42 879.05L235.87 930.95L233.51 1034.75M219.42 645.5L227.28 775.25L230.31 827.15L235.11 845.83L235.42 879.05L235.31 930.95L233.41 1034.75M214.61 645.5L223.01 775.25L226.57 827.15L232.81 845.83L233.78 879.05L234.39 930.95L233.26 1034.75M219.23 645.5L220.67 775.25L224.34 827.15L231.41 845.83L232.71 879.05L233.75 930.95L233.14 1034.75M224.24 645.5L223.41 775.25L223.18 827.15L230.22 845.83L231.79 879.05L233.17 930.95L233.02 1034.75M226.66 645.5L224.6 775.25L223.94 827.15L230.36 845.83L230.97 879.05L232.7 930.95L232.94 1034.75M233.94 645.5L229.21 775.25L227.67 827.15L232.58 845.83L232.34 879.05L232.54 930.95L232.81 1034.75M237.16 645.5L231.33 775.25L229.42 827.15L233.64 845.83L233.07 879.05L232.93 930.95L232.76 1034.75M244.02 645.5L235.58 775.25L232.77 827.15L235.62 845.83L234.38 879.05L233.57 930.95L232.79 1034.75M249.32 645.5L239.4 775.25L236.11 827.15L237.66 845.83L235.84 879.05L234.38 930.95L232.92 1034.75M252.13 645.5L241.39 775.25L237.84 827.15L238.72 845.83L236.59 879.05L234.79 930.95L232.99 1034.75" fill="none" stroke="#000" stroke-width="1.1" stroke-linejoin="round"/>
<line x1="107.1" y1="671.45" x2="278.8" y2="671.45" stroke="#aaa" stroke-width="2" />
<line x1="107.1" y1="775.25" x2="278.8" y2="775.25" stroke="#aaa" stroke-width="2" />
<line x1="107.1" y1="827.15" x2="278.8" y2="827.15" stroke="#aaa" stroke-width="2" />
<line x1="107.1" y1="930.95" x2="278.8" y2="930.95" stroke="#aaa" stroke-width="2" />
<line x1="107.1" y1="1034.75" x2="278.8" y2="1034.75" stroke="#aaa" stroke-width="2" />
<line x1="106.4" y1="879.05" x2="272.2" y2="879.05" stroke="#f00" stroke-width="2" stroke-dasharray="7.2 7.2"/>
<path d="M113.6 619.1V630.1H272.6V619.1M153.35 630.1V619.1M193.1 630.1V619.1M232.85 630.1V619.1" fill="none" stroke="#000" stroke-width="2" stroke-linecap="round" stroke-linejoin="round"/>
<path d="M107.1 645.5V1034.75M95.8 645.5H107.1M95.8 671.45H107.1M95.8 775.25H107.1M95.8 827.15H107.1M95.8 879.05H107.1M95.8 930.95H107.1M95.8 1034.75H107.1" fill="none" stroke="#000" stroke-width="2" stroke-linecap="round"/>
<text x="84.2" y="652.3" font-size="19" text-anchor="end" fill="#000" stroke="#000" stroke-width="0.3" >0.0</text>
<text x="84.2" y="678.25" font-size="19" text-anchor="end" fill="#000" stroke="#000" stroke-width="0.3" >2.5</text>
<text x="84.2" y="782.05" font-size="19" text-anchor="end" fill="#000" stroke="#000" stroke-width="0.3" >12.5</text>
<text x="84.2" y="833.95" font-size="19" text-anchor="end" fill="#000" stroke="#000" stroke-width="0.3" >17.5</text>
<text x="84.2" y="885.85" font-size="19" text-anchor="end" fill="#000" stroke="#000" stroke-width="0.3" >22.5</text>
<text x="84.2" y="937.75" font-size="19" text-anchor="end" fill="#000" stroke="#000" stroke-width="0.3" >27.5</text>
<text x="84.2" y="1041.55" font-size="19" text-anchor="end" fill="#000" stroke="#000" stroke-width="0.3" >37.5</text>
<path d="M453.2 658.48L413.1 749.3L458.1 837.53L409.3 868.67L358.8 905L370.8 972.47L377.3 1038.9M450 658.48L413.1 749.3L458.1 837.53L409.3 868.67L358.8 905L370.8 972.47L377.3 1038.9M447 658.48L413.1 749.3L458.1 837.53L409.3 868.67L358.8 905L370.8 972.47L377.3 1038.9M444 658.48L413.1 749.3L458.1 837.53L408.2 868.67L357.6 905L369.8 972.47L377.3 1038.9M441.5 658.48L413.1 749.3L458.1 837.53L408.2 868.67L357.6 905L369.8 972.47L377.3 1038.9" fill="none" stroke="#bbb" stroke-width="1.05" stroke-linejoin="round"/>
<path d="M439 658.48L413.1 749.3L458.1 837.53L408.2 868.67L357.6 905L369.8 972.47L377.3 1038.9" fill="none" stroke="#bbb" stroke-width="1.8" stroke-linejoin="round"/>
<line x1="389.4" y1="658.48" x2="473" y2="658.48" stroke="#222" stroke-width="1.3" />
<line x1="397.3" y1="749.3" x2="429.5" y2="749.3" stroke="#222" stroke-width="1.3" />
<line x1="449.1" y1="837.53" x2="467.1" y2="837.53" stroke="#222" stroke-width="1.3" />
<line x1="396.7" y1="868.67" x2="420.9" y2="868.67" stroke="#222" stroke-width="1.3" />
<line x1="345.9" y1="905" x2="371" y2="905" stroke="#222" stroke-width="1.3" />
<line x1="357.3" y1="972.47" x2="384.8" y2="972.47" stroke="#222" stroke-width="1.3" />
<circle cx="453.2" cy="658.48" r="4.3" fill="#b2b2b2" fill-opacity="0.78" stroke="#0a0a0a" stroke-opacity="0.95" stroke-width="1.2"/>
<circle cx="450" cy="658.48" r="4.3" fill="#b2b2b2" fill-opacity="0.78" stroke="#0a0a0a" stroke-opacity="0.95" stroke-width="1.2"/>
<circle cx="447" cy="658.48" r="4.3" fill="#b2b2b2" fill-opacity="0.78" stroke="#0a0a0a" stroke-opacity="0.95" stroke-width="1.2"/>
<circle cx="444" cy="658.48" r="4.3" fill="#b2b2b2" fill-opacity="0.78" stroke="#0a0a0a" stroke-opacity="0.95" stroke-width="1.2"/>
<circle cx="441.5" cy="658.48" r="4.3" fill="#b2b2b2" fill-opacity="0.78" stroke="#0a0a0a" stroke-opacity="0.95" stroke-width="1.2"/>
<circle cx="439" cy="658.48" r="4.3" fill="#b2b2b2" fill-opacity="0.78" stroke="#0a0a0a" stroke-opacity="0.95" stroke-width="1.2"/>
<line x1="434.6" y1="658.48" x2="457.6" y2="658.48" stroke="#222" stroke-width="1.2" stroke-opacity="0.85"/>
<circle cx="413.1" cy="749.3" r="4.3" fill="#b2b2b2" fill-opacity="0.78" stroke="#0a0a0a" stroke-opacity="0.95" stroke-width="1.2"/>
<line x1="408.7" y1="749.3" x2="417.5" y2="749.3" stroke="#222" stroke-width="1.2" stroke-opacity="0.85"/>
<circle cx="458.1" cy="837.53" r="4.3" fill="#b2b2b2" fill-opacity="0.78" stroke="#0a0a0a" stroke-opacity="0.95" stroke-width="1.2"/>
<line x1="453.7" y1="837.53" x2="462.5" y2="837.53" stroke="#222" stroke-width="1.2" stroke-opacity="0.85"/>
<circle cx="409.3" cy="868.67" r="4.3" fill="#b2b2b2" fill-opacity="0.78" stroke="#0a0a0a" stroke-opacity="0.95" stroke-width="1.2"/>
<circle cx="408.2" cy="868.67" r="4.3" fill="#b2b2b2" fill-opacity="0.78" stroke="#0a0a0a" stroke-opacity="0.95" stroke-width="1.2"/>
<line x1="403.8" y1="868.67" x2="413.7" y2="868.67" stroke="#222" stroke-width="1.2" stroke-opacity="0.85"/>
<circle cx="358.8" cy="905" r="4.3" fill="#b2b2b2" fill-opacity="0.78" stroke="#0a0a0a" stroke-opacity="0.95" stroke-width="1.2"/>
<circle cx="357.6" cy="905" r="4.3" fill="#b2b2b2" fill-opacity="0.78" stroke="#0a0a0a" stroke-opacity="0.95" stroke-width="1.2"/>
<line x1="353.2" y1="905" x2="363.2" y2="905" stroke="#222" stroke-width="1.2" stroke-opacity="0.85"/>
<circle cx="370.8" cy="972.47" r="4.3" fill="#b2b2b2" fill-opacity="0.78" stroke="#0a0a0a" stroke-opacity="0.95" stroke-width="1.2"/>
<circle cx="369.8" cy="972.47" r="4.3" fill="#b2b2b2" fill-opacity="0.78" stroke="#0a0a0a" stroke-opacity="0.95" stroke-width="1.2"/>
<line x1="365.4" y1="972.47" x2="375.2" y2="972.47" stroke="#222" stroke-width="1.2" stroke-opacity="0.85"/>
<line x1="387" y1="631.1" x2="387" y2="1038.9" stroke="#bbb" stroke-width="1.8" />
<path d="M307.5 619.1V630.1H466.5V619.1M387 630.1V619.1" fill="none" stroke="#000" stroke-width="2" stroke-linecap="round" stroke-linejoin="round"/>
<rect x="496.2" y="630.5" width="170.9" height="408.4" fill="url(#gS4)"/>
<path d="M521.7 645.5L521.7 695.95L521.7 746.4L526.8 796.85L550.6 847.3L622.4 897.75L637.4 948.2" fill="none" stroke="#000" stroke-width="3.5" stroke-linecap="round" stroke-linejoin="round" stroke-dasharray="0.01 14.45"/>
<circle cx="521.7" cy="645.5" r="6" fill="#fff" stroke="#000" stroke-width="1.9"/>
<circle cx="521.7" cy="695.95" r="6" fill="#fff" stroke="#000" stroke-width="1.9"/>
<circle cx="521.7" cy="746.4" r="6" fill="#fff" stroke="#000" stroke-width="1.9"/>
<circle cx="526.8" cy="796.85" r="6" fill="#fff" stroke="#000" stroke-width="1.9"/>
<circle cx="550.6" cy="847.3" r="6" fill="#fff" stroke="#000" stroke-width="1.9"/>
<circle cx="622.4" cy="897.75" r="6" fill="#fff" stroke="#000" stroke-width="1.9"/>
<circle cx="637.4" cy="948.2" r="6" fill="#fff" stroke="#000" stroke-width="1.9"/>
<rect x="496.2" y="630.5" width="170.9" height="408.4" fill="none" stroke="#000" stroke-width="2" stroke-linejoin="round"/>
<path d="M521.8 630.5V619.1M561.5 630.5V619.1M601.2 630.5V619.1M640.9 630.5V619.1" fill="none" stroke="#000" stroke-width="2" stroke-linecap="round"/>
</g>
<g id="S5">
<text x="1065.8" y="592.4" font-size="31.9" text-anchor="middle" fill="#000" stroke="#000" stroke-width="0.35" >S5</text>
<path d="M916.87 645.5L910.52 671.45L877.73 775.25L875.66 827.15L871.48 879.05L864.1 930.95L851.55 1034.75M912.28 645.5L911.05 671.45L877.89 775.25L875.81 827.15L871.64 879.05L864.27 930.95L851.72 1034.75M909.31 645.5L908.96 671.45L878.04 775.25L875.93 827.15L871.77 879.05L864.4 930.95L851.84 1034.75M907.01 645.5L907.43 671.45L878.18 775.25L876.04 827.15L871.88 879.05L864.5 930.95L851.93 1034.75M902.54 645.5L903.95 671.45L878.04 775.25L876.13 827.15L871.99 879.05L864.63 930.95L852.07 1034.75M898.22 645.5L900.56 671.45L877.87 775.25L876.09 827.15L872.09 879.05L864.74 930.95L852.2 1034.75M892.95 645.5L896.64 671.45L877.71 775.25L875.99 827.15L872.14 879.05L864.92 930.95L852.38 1034.75M889.85 645.5L893.97 671.45L877.54 775.25L875.86 827.15L872.01 879.05L864.95 930.95L852.46 1034.75M884.13 645.5L889.45 671.45L877.31 775.25L875.7 827.15L871.88 879.05L864.84 930.95L852.64 1034.75M880.44 645.5L886.36 671.45L877.13 775.25L875.56 827.15L871.75 879.05L864.72 930.95L852.65 1034.75M879.55 645.5L883.95 671.45L876.94 775.25L875.4 827.15L871.57 879.05L864.54 930.95L852.47 1034.75M882.24 645.5L883.39 671.45L876.78 775.25L875.27 827.15L871.44 879.05L864.42 930.95L852.37 1034.75M883.57 645.5L884.17 671.45L876.65 775.25L875.18 827.15L871.35 879.05L864.33 930.95L852.31 1034.75M888.12 645.5L887.56 671.45L876.52 775.25L875.05 827.15L871.21 879.05L864.18 930.95L852.15 1034.75M892.14 645.5L890.63 671.45L876.66 775.25L874.95 827.15L871.1 879.05L864.06 930.95L852.02 1034.75M897.55 645.5L894.7 671.45L876.84 775.25L875 827.15L870.94 879.05L863.88 930.95L851.84 1034.75M901.41 645.5L897.95 671.45L877.03 775.25L875.15 827.15L871.01 879.05L863.81 930.95L851.73 1034.75M904.39 645.5L900.31 671.45L877.15 775.25L875.23 827.15L871.08 879.05L863.75 930.95L851.64 1034.75M910.44 645.5L905.08 671.45L877.4 775.25L875.4 827.15L871.22 879.05L863.86 930.95L851.45 1034.75M912.88 645.5L907.23 671.45L877.54 775.25L875.52 827.15L871.34 879.05L863.97 930.95L851.45 1034.75" fill="none" stroke="#000" stroke-width="1.1" stroke-linejoin="round"/>
<line x1="786.9" y1="671.45" x2="958.6" y2="671.45" stroke="#aaa" stroke-width="2" />
<line x1="786.9" y1="827.15" x2="958.6" y2="827.15" stroke="#aaa" stroke-width="2" />
<line x1="786.9" y1="879.05" x2="958.6" y2="879.05" stroke="#aaa" stroke-width="2" />
<line x1="786.9" y1="930.95" x2="958.6" y2="930.95" stroke="#aaa" stroke-width="2" />
<line x1="786.9" y1="1034.75" x2="958.6" y2="1034.75" stroke="#aaa" stroke-width="2" />
<line x1="786.2" y1="775.25" x2="952" y2="775.25" stroke="#f00" stroke-width="2" stroke-dasharray="7.2 7.2"/>
<path d="M793.4 619.1V630.1H952.4V619.1M833.15 630.1V619.1M872.9 630.1V619.1M912.65 630.1V619.1" fill="none" stroke="#000" stroke-width="2" stroke-linecap="round" stroke-linejoin="round"/>
<path d="M786.9 645.5V1034.75M775.6 645.5H786.9M775.6 671.45H786.9M775.6 775.25H786.9M775.6 827.15H786.9M775.6 879.05H786.9M775.6 930.95H786.9M775.6 1034.75H786.9" fill="none" stroke="#000" stroke-width="2" stroke-linecap="round"/>
<path d="M1039.8 658.48L1051.7 723.35L1032.7 801.2L1061 853.1L993.9 905L1030.8 982.85L1032.8 1038.9" fill="none" stroke="#bbb" stroke-width="1.05" stroke-linejoin="round"/>
<path d="M1041.8 658.48L1051.7 723.35L1032.7 801.2L1061 853.1L993.9 905L1030.8 982.85L1032.8 1038.9" fill="none" stroke="#bbb" stroke-width="1.3" stroke-linejoin="round"/>
<line x1="1030.3" y1="658.48" x2="1052.8" y2="658.48" stroke="#222" stroke-width="1.3" />
<line x1="1048.3" y1="723.35" x2="1055.3" y2="723.35" stroke="#222" stroke-width="1.3" />
<line x1="1025.3" y1="801.2" x2="1039.9" y2="801.2" stroke="#222" stroke-width="1.3" />
<line x1="1057.8" y1="853.1" x2="1064.2" y2="853.1" stroke="#222" stroke-width="1.3" />
<line x1="990.8" y1="905" x2="997" y2="905" stroke="#222" stroke-width="1.3" />
<line x1="1027.3" y1="982.85" x2="1034.3" y2="982.85" stroke="#222" stroke-width="1.3" />
<circle cx="1039.8" cy="658.48" r="4.3" fill="#b2b2b2" fill-opacity="0.78" stroke="#0a0a0a" stroke-opacity="0.95" stroke-width="1.2"/>
<circle cx="1041.8" cy="658.48" r="4.3" fill="#b2b2b2" fill-opacity="0.78" stroke="#0a0a0a" stroke-opacity="0.95" stroke-width="1.2"/>
<line x1="1035.4" y1="658.48" x2="1046.2" y2="658.48" stroke="#222" stroke-width="1.2" stroke-opacity="0.85"/>
<circle cx="1051.7" cy="723.35" r="4.3" fill="#b2b2b2" fill-opacity="0.78" stroke="#0a0a0a" stroke-opacity="0.95" stroke-width="1.2"/>
<line x1="1048.3" y1="723.35" x2="1055.3" y2="723.35" stroke="#222" stroke-width="1.2" stroke-opacity="0.85"/>
<circle cx="1032.7" cy="801.2" r="4.3" fill="#b2b2b2" fill-opacity="0.78" stroke="#0a0a0a" stroke-opacity="0.95" stroke-width="1.2"/>
<line x1="1028.3" y1="801.2" x2="1037.1" y2="801.2" stroke="#222" stroke-width="1.2" stroke-opacity="0.85"/>
<circle cx="1061" cy="853.1" r="4.3" fill="#b2b2b2" fill-opacity="0.78" stroke="#0a0a0a" stroke-opacity="0.95" stroke-width="1.2"/>
<line x1="1057.8" y1="853.1" x2="1064.2" y2="853.1" stroke="#222" stroke-width="1.2" stroke-opacity="0.85"/>
<circle cx="993.9" cy="905" r="4.3" fill="#b2b2b2" fill-opacity="0.78" stroke="#0a0a0a" stroke-opacity="0.95" stroke-width="1.2"/>
<line x1="990.8" y1="905" x2="997" y2="905" stroke="#222" stroke-width="1.2" stroke-opacity="0.85"/>
<circle cx="1030.8" cy="982.85" r="4.3" fill="#b2b2b2" fill-opacity="0.78" stroke="#0a0a0a" stroke-opacity="0.95" stroke-width="1.2"/>
<line x1="1027.3" y1="982.85" x2="1034.3" y2="982.85" stroke="#222" stroke-width="1.2" stroke-opacity="0.85"/>
<line x1="1066.8" y1="631.1" x2="1066.8" y2="1038.9" stroke="#bbb" stroke-width="1.8" />
<path d="M987.3 619.1V630.1H1146.3V619.1M1066.8 630.1V619.1" fill="none" stroke="#000" stroke-width="2" stroke-linecap="round" stroke-linejoin="round"/>
<rect x="1176" y="630.5" width="170.9" height="408.4" fill="url(#gS5)"/>
<path d="M1201.9 645.5L1206.8 695.95L1320.8 796.85L1320.8 847.3L1320.8 897.75L1320.8 948.2" fill="none" stroke="#000" stroke-width="3.5" stroke-linecap="round" stroke-linejoin="round" stroke-dasharray="0.01 14.45"/>
<circle cx="1201.9" cy="645.5" r="6" fill="#fff" stroke="#000" stroke-width="1.9"/>
<circle cx="1206.8" cy="695.95" r="6" fill="#fff" stroke="#000" stroke-width="1.9"/>
<circle cx="1263.8" cy="746.4" r="6" fill="#fff" stroke="#000" stroke-width="1.8"/>
<path d="M1259.6 742.2L1268 750.6M1259.6 750.6L1268 742.2" stroke="#000" stroke-width="1.2" fill="none"/>
<circle cx="1320.8" cy="796.85" r="6" fill="#fff" stroke="#000" stroke-width="1.9"/>
<circle cx="1320.8" cy="847.3" r="6" fill="#fff" stroke="#000" stroke-width="1.9"/>
<circle cx="1320.8" cy="897.75" r="6" fill="#fff" stroke="#000" stroke-width="1.9"/>
<circle cx="1320.8" cy="948.2" r="6" fill="#fff" stroke="#000" stroke-width="1.9"/>
<rect x="1176" y="630.5" width="170.9" height="408.4" fill="none" stroke="#000" stroke-width="2" stroke-linejoin="round"/>
<path d="M1201.6 630.5V619.1M1241.3 630.5V619.1M1281 630.5V619.1M1320.7 630.5V619.1" fill="none" stroke="#000" stroke-width="2" stroke-linecap="round"/>
</g>
<g id="S6">
<text x="1745.6" y="592.4" font-size="31.9" text-anchor="middle" fill="#000" stroke="#000" stroke-width="0.35" >S6</text>
<path d="M1619.86 645.5L1573.7 775.25L1572.08 827.15L1569.42 879.05L1565.33 930.95L1563.4 1034.75M1613.88 645.5L1576.53 775.25L1574.88 827.15L1571.83 879.05L1566.97 930.95L1564.34 1034.75M1604.77 645.5L1579.05 775.25L1577.43 827.15L1574.09 879.05L1568.57 930.95L1565.31 1034.75M1592.44 645.5L1583.44 775.25L1581.74 827.15L1577.8 879.05L1571.09 930.95L1566.78 1034.75M1584.09 645.5L1582.51 775.25L1582.83 827.15L1579.1 879.05L1572.12 930.95L1567.48 1034.75M1575.33 645.5L1580.29 775.25L1580.8 827.15L1579.35 879.05L1573.34 930.95L1568.28 1034.75M1566.49 645.5L1578.21 775.25L1578.94 827.15L1577.95 879.05L1573.69 930.95L1569.13 1034.75M1558.8 645.5L1575.07 775.25L1575.92 827.15L1575.44 879.05L1572.06 930.95L1569.31 1034.75M1550.67 645.5L1572.19 775.25L1573.2 827.15L1573.22 879.05L1570.68 930.95L1568.6 1034.75M1539.35 645.5L1568.41 775.25L1569.63 827.15L1570.34 879.05L1568.91 930.95L1567.71 1034.75M1548.65 645.5L1565.76 775.25L1566.94 827.15L1567.95 879.05L1567.21 930.95L1566.68 1034.75M1554.36 645.5L1562.59 775.25L1563.91 827.15L1565.43 879.05L1565.59 930.95L1565.82 1034.75M1562.75 645.5L1560.17 775.25L1561.48 827.15L1563.28 879.05L1564.09 930.95L1564.91 1034.75M1574.4 645.5L1559.37 775.25L1559 827.15L1561.01 879.05L1562.4 930.95L1563.81 1034.75M1584.07 645.5L1561.8 775.25L1560.89 827.15L1560.38 879.05L1561.03 930.95L1562.92 1034.75M1594.95 645.5L1564.66 775.25L1563.5 827.15L1562.39 879.05L1560.92 930.95L1561.95 1034.75M1605.41 645.5L1568.49 775.25L1567.14 827.15L1565.38 879.05L1562.8 930.95L1562.09 1034.75M1609.22 645.5L1570.41 775.25L1569.01 827.15L1566.98 879.05L1563.87 930.95L1562.7 1034.75" fill="none" stroke="#000" stroke-width="1.1" stroke-linejoin="round"/>
<line x1="1466.7" y1="671.45" x2="1638.4" y2="671.45" stroke="#aaa" stroke-width="2" />
<line x1="1466.7" y1="775.25" x2="1638.4" y2="775.25" stroke="#aaa" stroke-width="2" />
<line x1="1466.7" y1="827.15" x2="1638.4" y2="827.15" stroke="#aaa" stroke-width="2" />
<line x1="1466.7" y1="879.05" x2="1638.4" y2="879.05" stroke="#aaa" stroke-width="2" />
<line x1="1466.7" y1="1034.75" x2="1638.4" y2="1034.75" stroke="#aaa" stroke-width="2" />
<line x1="1466" y1="930.95" x2="1631.8" y2="930.95" stroke="#f00" stroke-width="2" stroke-dasharray="7.2 7.2"/>
<path d="M1473.2 619.1V630.1H1632.2V619.1M1512.95 630.1V619.1M1552.7 630.1V619.1M1592.45 630.1V619.1" fill="none" stroke="#000" stroke-width="2" stroke-linecap="round" stroke-linejoin="round"/>
<path d="M1466.7 645.5V1034.75M1455.4 645.5H1466.7M1455.4 671.45H1466.7M1455.4 775.25H1466.7M1455.4 827.15H1466.7M1455.4 879.05H1466.7M1455.4 930.95H1466.7M1455.4 1034.75H1466.7" fill="none" stroke="#000" stroke-width="2" stroke-linecap="round"/>
<path d="M1798.9 658.48L1796 723.35L1798.5 801.2L1792.2 853.1L1774.5 905L1778.9 982.85L1774.8 1038.9M1799.9 658.48L1796 723.35L1798.5 801.2L1792.2 853.1L1774.5 905L1778.9 982.85L1774.8 1038.9M1800.9 658.48L1796 723.35L1798.5 801.2L1792.2 853.1L1775.6 905L1780.1 982.85L1776.8 1038.9" fill="none" stroke="#bbb" stroke-width="1.05" stroke-linejoin="round"/>
<path d="M1802.2 658.48L1796 723.35L1798.5 801.2L1792.2 853.1L1775.6 905L1780.1 982.85L1776.8 1038.9" fill="none" stroke="#bbb" stroke-width="1.1" stroke-linejoin="round"/>
<line x1="1765.1" y1="658.48" x2="1838.8" y2="658.48" stroke="#222" stroke-width="1.3" />
<line x1="1785.6" y1="723.35" x2="1806.6" y2="723.35" stroke="#222" stroke-width="1.3" />
<line x1="1795.1" y1="801.2" x2="1801.9" y2="801.2" stroke="#222" stroke-width="1.3" />
<line x1="1785.9" y1="853.1" x2="1798.4" y2="853.1" stroke="#222" stroke-width="1.3" />
<line x1="1764.2" y1="905" x2="1786.2" y2="905" stroke="#222" stroke-width="1.3" />
<line x1="1768.7" y1="982.85" x2="1792.9" y2="982.85" stroke="#222" stroke-width="1.3" />
<circle cx="1798.9" cy="658.48" r="4.3" fill="#b2b2b2" fill-opacity="0.78" stroke="#0a0a0a" stroke-opacity="0.95" stroke-width="1.2"/>
<circle cx="1799.9" cy="658.48" r="4.3" fill="#b2b2b2" fill-opacity="0.78" stroke="#0a0a0a" stroke-opacity="0.95" stroke-width="1.2"/>
<circle cx="1800.9" cy="658.48" r="4.3" fill="#b2b2b2" fill-opacity="0.78" stroke="#0a0a0a" stroke-opacity="0.95" stroke-width="1.2"/>
<circle cx="1802.2" cy="658.48" r="4.3" fill="#b2b2b2" fill-opacity="0.78" stroke="#0a0a0a" stroke-opacity="0.95" stroke-width="1.2"/>
<line x1="1794.5" y1="658.48" x2="1806.6" y2="658.48" stroke="#222" stroke-width="1.2" stroke-opacity="0.85"/>
<circle cx="1796" cy="723.35" r="4.3" fill="#b2b2b2" fill-opacity="0.78" stroke="#0a0a0a" stroke-opacity="0.95" stroke-width="1.2"/>
<line x1="1791.6" y1="723.35" x2="1800.4" y2="723.35" stroke="#222" stroke-width="1.2" stroke-opacity="0.85"/>
<circle cx="1798.5" cy="801.2" r="4.3" fill="#b2b2b2" fill-opacity="0.78" stroke="#0a0a0a" stroke-opacity="0.95" stroke-width="1.2"/>
<line x1="1795.1" y1="801.2" x2="1801.9" y2="801.2" stroke="#222" stroke-width="1.2" stroke-opacity="0.85"/>
<circle cx="1792.2" cy="853.1" r="4.3" fill="#b2b2b2" fill-opacity="0.78" stroke="#0a0a0a" stroke-opacity="0.95" stroke-width="1.2"/>
<line x1="1787.8" y1="853.1" x2="1796.6" y2="853.1" stroke="#222" stroke-width="1.2" stroke-opacity="0.85"/>
<circle cx="1774.5" cy="905" r="4.3" fill="#b2b2b2" fill-opacity="0.78" stroke="#0a0a0a" stroke-opacity="0.95" stroke-width="1.2"/>
<circle cx="1775.6" cy="905" r="4.3" fill="#b2b2b2" fill-opacity="0.78" stroke="#0a0a0a" stroke-opacity="0.95" stroke-width="1.2"/>
<line x1="1770.1" y1="905" x2="1780" y2="905" stroke="#222" stroke-width="1.2" stroke-opacity="0.85"/>
<circle cx="1778.9" cy="982.85" r="4.3" fill="#b2b2b2" fill-opacity="0.78" stroke="#0a0a0a" stroke-opacity="0.95" stroke-width="1.2"/>
<circle cx="1780.1" cy="982.85" r="4.3" fill="#b2b2b2" fill-opacity="0.78" stroke="#0a0a0a" stroke-opacity="0.95" stroke-width="1.2"/>
<line x1="1774.5" y1="982.85" x2="1784.5" y2="982.85" stroke="#222" stroke-width="1.2" stroke-opacity="0.85"/>
<line x1="1773.1" y1="631.1" x2="1773.1" y2="1038.9" stroke="#c4c4c4" stroke-width="2.8" />
<path d="M1667.6 619.1V630.1H1826.6V619.1M1773.1 630.1V619.1" fill="none" stroke="#000" stroke-width="2" stroke-linecap="round" stroke-linejoin="round"/>
<rect x="1855.8" y="630.5" width="170.9" height="408.4" fill="url(#gS6)"/>
<path d="M1881.7 645.5L1883.9 695.95L1884.4 746.4L1910.9 796.85L1938.3 847.3L1963.3 897.75L1974.5 948.2" fill="none" stroke="#000" stroke-width="3.5" stroke-linecap="round" stroke-linejoin="round" stroke-dasharray="0.01 14.45"/>
<circle cx="1881.7" cy="645.5" r="6" fill="#fff" stroke="#000" stroke-width="1.9"/>
<circle cx="1883.9" cy="695.95" r="6" fill="#fff" stroke="#000" stroke-width="1.9"/>
<circle cx="1884.4" cy="746.4" r="6" fill="#fff" stroke="#000" stroke-width="1.9"/>
<circle cx="1910.9" cy="796.85" r="6" fill="#fff" stroke="#000" stroke-width="1.9"/>
<circle cx="1938.3" cy="847.3" r="6" fill="#fff" stroke="#000" stroke-width="1.9"/>
<circle cx="1963.3" cy="897.75" r="6" fill="#fff" stroke="#000" stroke-width="1.9"/>
<circle cx="1974.5" cy="948.2" r="6" fill="#fff" stroke="#000" stroke-width="1.9"/>
<rect x="1855.8" y="630.5" width="170.9" height="408.4" fill="none" stroke="#000" stroke-width="2" stroke-linejoin="round"/>
<path d="M1881.4 630.5V619.1M1921.1 630.5V619.1M1960.8 630.5V619.1M2000.5 630.5V619.1" fill="none" stroke="#000" stroke-width="2" stroke-linecap="round"/>
</g>
<text x="237.2" y="253.3" font-size="25" text-anchor="middle" fill="#f00" stroke="#f00" stroke-width="0.3" textLength="43.5" lengthAdjust="spacingAndGlyphs" style="font-family:'DejaVu Sans Condensed','DejaVu Sans','Liberation Sans',sans-serif">TED</text>
<rect x="2049.6" y="119.2" width="16.4" height="919.6" fill="url(#gbar)" stroke="#000" stroke-width="2" stroke-linejoin="round"/>
<text transform="translate(2093.2 580.2) rotate(-90)" font-size="31.2" stroke="#000" stroke-width="0.35" text-anchor="middle" fill="#000">Redox gradient</text>
<text transform="translate(22.2 578.8) rotate(-90)" font-size="31.2" stroke="#000" stroke-width="0.35" text-anchor="middle" fill="#000">Depth (cm)</text>
</svg></body></html>
